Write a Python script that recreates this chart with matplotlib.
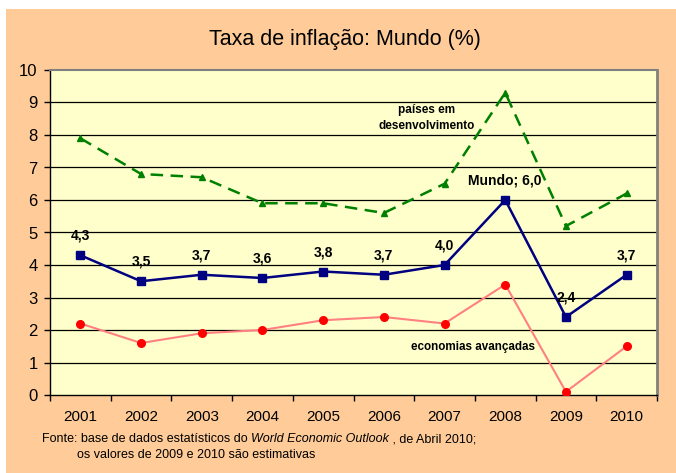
import matplotlib
matplotlib.use("Agg")
import matplotlib.pyplot as plt
from matplotlib.patches import Rectangle

plt.rcParams['font.family'] = ['Liberation Sans', 'DejaVu Sans']

years = ["2001", "2002", "2003", "2004", "2005", "2006", "2007", "2008", "2009", "2010"]
mundo = [4.3, 3.5, 3.7, 3.6, 3.8, 3.7, 4.0, 6.0, 2.4, 3.7]
desenvolvimento = [7.9, 6.8, 6.7, 5.9, 5.9, 5.6, 6.5, 9.3, 5.2, 6.2]
avancadas = [2.2, 1.6, 1.9, 2.0, 2.3, 2.4, 2.2, 3.4, 0.1, 1.5]
mundo_labels = ["4,3", "3,5", "3,7", "3,6", "3,8", "3,7", "4,0", "Mundo; 6,0", "2,4", "3,7"]
yticks = list(range(0, 11))

W, H = 676, 473
fig = plt.figure(figsize=(W / 100, H / 100), dpi=100)
fig.patch.set_facecolor("white")
fig.patches.append(Rectangle((6 / W, 0), 1 - 6 / W, 1 - 9 / H, transform=fig.transFigure,
                             facecolor="#FFCC99", edgecolor="none", zorder=-10))

ax = fig.add_axes([50 / W, 1 - 395 / H, (657 - 50) / W, (395 - 70) / H])
ax.set_facecolor("#FFFFCC")

x = list(range(len(years)))
ax.plot(x, desenvolvimento, color="#008000", lw=1.8, dashes=(5, 3), marker="^",
        markersize=5, markerfacecolor="#008000", markeredgecolor="#008000", zorder=3)
ax.plot(x, avancadas, color="#FF8080", lw=1.5, marker="o", markersize=5.5,
        markerfacecolor="#FF0000", markeredgecolor="#FF0000", zorder=3)
ax.plot(x, mundo, color="#000080", lw=1.8, marker="s", markersize=5.5,
        markerfacecolor="#000080", markeredgecolor="#000080", zorder=4)

for xi, yi, lab in zip(x, mundo, mundo_labels):
    ax.annotate(lab, (xi, yi), xytext=(0, 14), textcoords="offset points",
                ha="center", va="center", fontsize=10, fontweight="bold", color="black", zorder=5)

ax.text(5.71, 8.52, "países em\ndesenvolvimento", ha="center", va="center",
        fontsize=8.5, fontweight="bold", linespacing=1.4)
ax.text(6.47, 1.48, "economias avançadas", ha="center", va="center",
        fontsize=8.4, fontweight="bold")

ax.set_xlim(-0.5, 9.5)
ax.set_ylim(0, 10)
ax.set_yticks(yticks)
ax.set_yticklabels([str(t) for t in yticks], fontsize=12)
ax.set_xticks(x)
ax.set_xticklabels(years, fontsize=11)
ax.set_xticks([i - 0.5 for i in range(len(years) + 1)], minor=True)
ax.tick_params(axis="x", which="major", length=0, pad=11)
ax.tick_params(axis="x", which="minor", length=4, width=1, direction="out", color="black")
ax.tick_params(axis="y", length=4, width=1, pad=5, color="black")

for yv in yticks[1:-1]:
    ax.axhline(yv, color="black", lw=0.9, zorder=1)

ax.spines["left"].set_color("black")
ax.spines["bottom"].set_color("black")
ax.spines["left"].set_linewidth(1.0)
ax.spines["bottom"].set_linewidth(1.0)
ax.spines["top"].set_color("#808080")
ax.spines["right"].set_color("#808080")
ax.spines["top"].set_linewidth(1.5)
ax.spines["right"].set_linewidth(2.0)

fig.text(345 / W, 1 - 40 / H, "Taxa de inflação: Mundo (%)", ha="center", va="center", fontsize=15.5)

renderer = fig.canvas.get_renderer()
parts = [("Fonte: base de dados estatísticos do ", "normal"),
         ("World Economic Outlook", "italic"),
         (" , de Abril 2010;", "normal")]
xpos = 42
for txt, style in parts:
    t = fig.text(xpos / W, 1 - 439 / H, txt, ha="left", va="center", fontsize=9, style=style)
    bb = t.get_window_extent(renderer=renderer)
    xpos += bb.width
fig.text(77 / W, 1 - 455 / H, "os valores de 2009 e 2010 são estimativas", ha="left", va="center", fontsize=9)

fig.savefig("out.png", dpi=100, facecolor=fig.get_facecolor())
